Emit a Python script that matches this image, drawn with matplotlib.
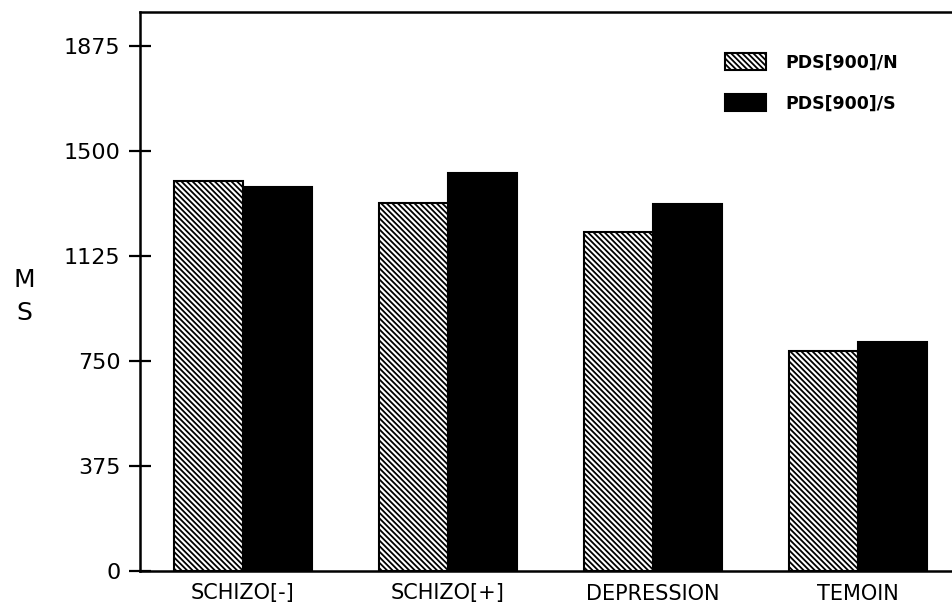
import matplotlib
matplotlib.use("Agg")
import matplotlib.pyplot as plt
import numpy as np

# data
groups = ["SCHIZO[-]", "SCHIZO[+]", "DEPRESSION", "TEMOIN"]
pds_n = [1393, 1314, 1211, 786]
pds_s = [1371, 1421, 1311, 818]
yticks = [0, 375, 750, 1125, 1500, 1875]

plt.rcParams["hatch.linewidth"] = 1.3
plt.rcParams["font.family"] = ["DejaVu Sans"]

fig = plt.figure(figsize=(9.53, 6.08), dpi=100)
ax = fig.add_axes([140 / 953, 37 / 608, 813 / 953, 559 / 608])

x = np.arange(len(groups))
w = 0.337
b1 = ax.bar(x - w / 2, pds_n, w, color="white", edgecolor="black",
            hatch="\\" * 6, linewidth=1.5, label="PDS[900]/N")
b2 = ax.bar(x + w / 2, pds_s, w, color="black", edgecolor="black",
            linewidth=1.5, label="PDS[900]/S")

ax.set_xlim(-0.502, 3.463)
ax.set_ylim(0, 1996)

ax.set_yticks(yticks)
ax.set_yticklabels([str(t) for t in yticks], fontsize=16)
ax.tick_params(axis="y", direction="inout", length=16, width=1.6, pad=6)
ax.set_xticks(x)
ax.set_xticklabels(groups, fontsize=15)
ax.tick_params(axis="x", length=0, pad=9)

for s in ["left", "bottom", "top"]:
    ax.spines[s].set_linewidth(1.8)
ax.spines["right"].set_visible(False)

fig.text(24 / 953, 1 - 280 / 608, "M", fontsize=18, ha="center", va="center")
fig.text(24 / 953, 1 - 313 / 608, "S", fontsize=18, ha="center", va="center")

ax.legend(handles=[b1, b2], loc="upper left",
          bbox_to_anchor=(725 / 953, 1 - 53 / 608), bbox_transform=fig.transFigure,
          frameon=False, prop={"weight": "bold", "size": 12.5},
          handlelength=2.35, handleheight=1.15, labelspacing=1.3,
          handletextpad=1.1, borderpad=0, borderaxespad=0)

fig.savefig("out.png", dpi=100)
